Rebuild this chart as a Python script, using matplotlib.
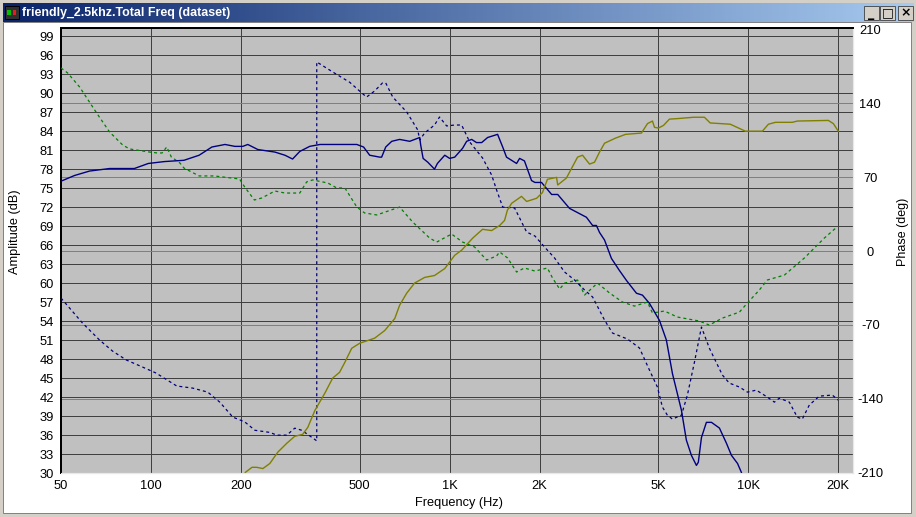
import numpy as np
import matplotlib
matplotlib.use("Agg")
import matplotlib.pyplot as plt
from matplotlib.colors import LinearSegmentedColormap
from matplotlib.patches import Rectangle

plt.rcParams['font.family'] = ['Liberation Sans', 'DejaVu Sans']

# woofer amplitude (solid blue)
woofer_f = [50, 55.5, 62.3, 72.7, 88, 98, 111, 129, 145, 160, 177, 191, 203, 211, 228, 260, 281, 298, 315, 340, 368,
            489, 515, 540, 583, 592, 611, 640, 680, 735, 794, 800, 815, 845, 890, 910, 963, 1000, 1040, 1105, 1140,
            1185, 1230, 1280, 1340, 1447, 1505, 1550, 1675, 1715, 1780, 1880, 1930, 2030, 2195, 2300, 2520, 2870,
            3010, 3100, 3175, 3300, 3480, 3700, 3910, 4220, 4420, 4665, 5040, 5315, 5570, 5970, 6200, 6445, 6700,
            6800, 6965, 7235, 7525, 8000, 8445, 8775, 9200, 9475]
woofer_db = [76.1, 77.0, 77.7, 78.1, 78.1, 78.9, 79.2, 79.4, 80.2, 81.5, 81.9, 81.6, 81.6, 81.9, 81.1, 80.7, 80.2, 79.6,
             80.8, 81.6, 81.9, 81.9, 81.5, 80.2, 79.9, 79.9, 81.5, 82.4, 82.7, 82.4, 83.0, 81.8, 79.7, 79.1, 78.0, 78.9,
             80.2, 79.7, 79.9, 81.3, 82.4, 82.7, 82.2, 82.2, 83.0, 83.5, 81.5, 79.9, 78.9, 79.7, 79.3, 76.2, 75.9, 75.9,
             74.0, 74.0, 71.8, 70.4, 69.1, 69.1, 68.0, 66.8, 63.9, 62.0, 60.4, 58.4, 58.1, 56.8, 54.1, 51.0, 45.7, 39.9,
             35.2, 32.8, 31.2, 31.7, 35.6, 38.0, 38.0, 37.1, 34.7, 32.8, 31.5, 30.1]

# tweeter amplitude (solid olive)
tweeter_f = [207, 218, 226, 237, 250, 266, 285, 303, 322, 335, 354, 382, 406, 428, 446, 470, 500, 561, 606, 655, 680,
             718, 763, 825, 890, 963, 1040, 1097, 1194, 1289, 1382, 1470, 1527, 1560, 1612, 1740, 1810, 1955, 2045,
             2125, 2280, 2300, 2460, 2680, 2785, 2940, 3055, 3175, 3300, 3590, 3880, 4385, 4595, 4775, 4850, 5000,
             5195, 5440, 5835, 6550, 7125, 7450, 8700, 9770, 11140, 11670, 12310, 14030, 14580, 18520, 19250, 20000]
tweeter_db = [30.1, 30.9, 30.9, 30.7, 31.5, 33.3, 34.7, 35.8, 36.1, 37.2, 39.9, 42.6, 45.0, 45.9, 47.5, 49.7, 50.5, 51.3,
              52.5, 54.4, 56.5, 58.4, 60.0, 60.9, 61.2, 62.3, 64.4, 65.2, 67.1, 68.5, 68.3, 69.1, 69.9, 71.5, 72.6, 73.7,
              72.9, 73.4, 74.3, 76.4, 76.7, 75.5, 76.6, 79.9, 80.2, 78.8, 79.1, 80.7, 82.1, 82.9, 83.5, 83.7, 85.2, 85.6,
              84.6, 84.5, 84.9, 85.9, 86.0, 86.2, 86.2, 85.3, 85.1, 84.0, 84.0, 85.1, 85.4, 85.4, 85.6, 85.7, 85.2, 84.0]

# tweeter phase (dashed green)
tweeter_phase_f = [50, 52.6, 57.7, 65.8, 72.7, 80.4, 84.8, 98.8, 105, 109, 113, 117, 125, 129, 145, 163, 198, 206, 222,
                   235, 260, 281, 315, 332, 348, 391, 419, 446, 489, 519, 570, 680, 752, 857, 905, 1015, 1105, 1212,
                   1330, 1436, 1470, 1563, 1675, 1780, 1930, 2125, 2210, 2335, 2425, 2680, 2830, 3125, 3430, 3790, 4155,
                   4595, 4775, 5235, 5785, 6855, 7400, 8185, 9335, 9925, 10880, 11570, 13200, 15400, 17960, 19800]
tweeter_phase = [173.6, 168.9, 155.6, 130.9, 112.9, 100.6, 96.8, 93.9, 93.0, 93.0, 98.7, 89.2, 83.5, 78.7, 71.2, 71.2, 68.3,
                 60.7, 48.4, 50.3, 56.9, 55.0, 55.0, 65.5, 67.4, 64.5, 59.8, 59.8, 41.7, 36.1, 34.2, 41.7, 27.5, 12.3, 8.5,
                 16.1, 8.5, 3.8, -8.5, -4.7, -0.9, -6.6, -19.9, -16.1, -19, -16.1, -25.6, -36.1, -30.4, -27.5, -41.7, -30.4,
                 -39.8, -48.4, -52.2, -48.4, -58.8, -56.9, -62.6, -66.4, -70.2, -63.6, -57.9, -49.3, -37, -27.5, -22.8,
                 -6.6, 12.3, 22.8]

# woofer phase (dashed blue), wraps at 359 Hz
woofer_phase_f = [50, 59, 67.3, 74.4, 82.8, 93.7, 104, 122, 138, 155, 170, 188, 206, 223, 250, 264, 285, 303, 320, 359,
                  359, 406, 463, 508, 527, 561, 596, 611, 645, 718, 782, 794, 825, 890, 925, 977, 1040, 1097, 1167, 1289,
                  1382, 1436, 1505, 1650, 1810, 1930, 2078, 2245, 2425, 2620, 2830, 3010, 3300, 3510, 3940, 4320, 4665,
                  4960, 5155, 5355, 5570, 5970, 6250, 6600, 6965, 7400, 8185, 8630, 9335, 9925, 10630, 11570, 12220,
                  12700, 13710, 14580, 15150, 16000, 17280, 19100, 20000]
woofer_phase = [-44.6, -68.3, -84.4, -94.9, -103.4, -110, -115.7, -128, -130, -133.8, -143.3, -157.5, -162, -170, -172,
                -174.6, -174.6, -168, -170, -180, 179.3, 169.8, 160, 149.9, 146, 151.8, 159.4, 159.4, 146, 131.9, 114.8,
                105.3, 112, 119.5, 127.1, 118.6, 119.5, 119.5, 103.4, 88.2, 72.1, 57.9, 41.7, 40.8, 18, 14.2, 3.8, -6.6,
                -19.9, -27.5, -37, -43.6, -65.5, -77.8, -83.5, -92, -112.9, -129, -148, -155.6, -159.4, -155.6, -136.6,
                -105.3, -72.1, -92, -117.6, -125.2, -129, -133.8, -131.9, -138.5, -143.3, -139.5, -143.3, -157.5, -159.4,
                -146, -137.6, -136.6, -141.4]

amp_ticks = list(range(30, 100, 3))
phase_ticks = [-210, -140, -70, 0, 70, 140, 210]
freq_ticks = [50, 100, 200, 500, 1000, 2000, 5000, 10000, 20000]
freq_labels = ["50", "100", "200", "500", "1K", "2K", "5K", "10K", "20K"]

W, H = 916, 517
fig = plt.figure(figsize=(W / 100, H / 100), dpi=100, facecolor="#d4d0c8")


def win_rect(x, y, w, h, **kw):
    # rectangle in window pixels, y measured from the top
    fig.add_artist(Rectangle((x / W, 1 - (y + h) / H), w / W, h / H, transform=fig.transFigure, **kw))


# window client area, behind the axes
win_rect(3, 22, 908, 491, fc="white", ec="#808080", lw=0.7, zorder=-2)

# title bar
bar = fig.add_axes([3 / W, 1 - 22 / H, 910 / W, 19 / H])
bar.imshow(np.linspace(0, 1, 256)[None, :], aspect="auto",
           cmap=LinearSegmentedColormap.from_list("bar", ["#0a246a", "#a6caf0"]))
bar.axis("off")
fig.text(22 / W, 1 - 13 / H, "friendly_2.5khz.Total Freq (dataset)", color="white", fontweight="bold",
         fontsize=8.9, va="center", ha="left")

# title bar icon and buttons
win_rect(5, 6, 14, 13, fc="#303030", ec="black", lw=0.7)
win_rect(7, 10, 4, 5, fc="#00c000", ec="none")
win_rect(13, 10, 3, 5, fc="#e02020", ec="none")
for bx, sym in zip([864, 880, 898], ["_", "□", "×"]):
    win_rect(bx, 6, 15, 14, fc="#d4d0c8", ec="#404040", lw=0.6)
    fig.text((bx + 7.5) / W, 1 - 13 / H, sym, color="black", fontsize=9, fontweight="bold", ha="center", va="center",
             family=["DejaVu Sans"])

# plot area
L, R, T, B = 61, 853, 28, 473
ax = fig.add_axes([L / W, 1 - B / H, (R - L) / W, (B - T) / H], facecolor="#c0c0c0")
ax.set_xscale("log")
ax.set_xlim(50, 22400)
ax.set_ylim(30, 100.3)
ax.set_yticks(amp_ticks)
ax.set_yticklabels([str(a) for a in amp_ticks])
ax.set_xticks(freq_ticks)
ax.set_xticklabels(freq_labels)
ax.minorticks_off()
ax.tick_params(length=0, labelsize=9.3, pad=5)
ax.grid(True, color="#404040", lw=0.72)
ax.set_axisbelow(True)

ax2 = ax.twinx()
ax2.set_ylim(-210.5, 211.5)
ax2.set_yticks(phase_ticks)
ax2.set_yticklabels([str(p) for p in phase_ticks], ha="center")
ax2.tick_params(length=0, labelsize=9.3, pad=12.5)
ax2.minorticks_off()
for p in phase_ticks[1:-1]:
    ax2.axhline(p, color="#808080", lw=0.72, zorder=1)

for a in (ax, ax2):
    a.spines["left"].set_linewidth(1.4)
    a.spines["top"].set_linewidth(1.4)
    a.spines["right"].set_color("#e8e8e8")
    a.spines["bottom"].set_color("#e8e8e8")

ax2.plot(tweeter_phase_f, tweeter_phase, color="#008000", lw=0.9, ls=(0, (2.4, 2.4)), zorder=3)
ax2.plot(woofer_phase_f, woofer_phase, color="#000080", lw=0.9, ls=(0, (2.4, 2.4)), zorder=3)

# solid curves are amplitude, drawn through ax's scale so they sit above the phase grid
ax2.plot(woofer_f, woofer_db, color="#000080", lw=1.0, zorder=4, transform=ax.transData)
ax2.plot(tweeter_f, tweeter_db, color="#808000", lw=1.0, zorder=4, transform=ax.transData)

fig.text(15 / W, 1 - 232 / H, "Amplitude (dB)", rotation=90, fontsize=9.2, ha="center", va="center")
fig.text(903 / W, 1 - 232 / H, "Phase (deg)", rotation=90, fontsize=9, ha="center", va="center")
fig.text(459 / W, 1 - 503 / H, "Frequency (Hz)", fontsize=9.2, ha="center", va="center")

fig.savefig("out.png", dpi=100, facecolor=fig.get_facecolor())
